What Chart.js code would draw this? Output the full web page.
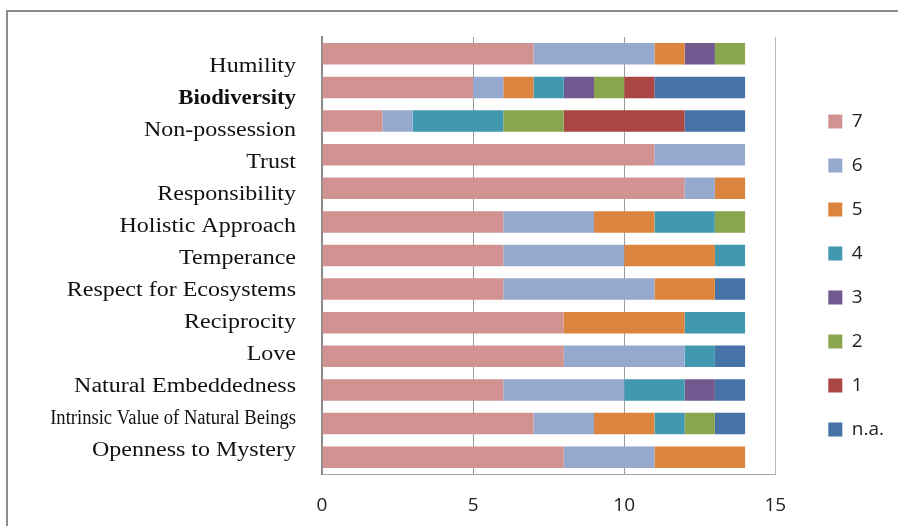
<!DOCTYPE html>
<html><head><meta charset="utf-8">
<script src="https://cdn.jsdelivr.net/npm/chart.js@4.4.1/dist/chart.umd.min.js"></script>
<style>
html,body{margin:0;padding:0;background:#fff;overflow:hidden;width:898px;height:526px}
#frame{position:absolute;left:6px;top:10px;width:1000px;height:1000px;border-top:2px solid #8c8c8c;border-left:2px solid #8c8c8c}
#c{position:absolute;left:0;top:0}
</style></head><body>
<div id="frame"></div>
<canvas id="c" width="898" height="526"></canvas>
<script>
const categories = ['Humility','Biodiversity','Non-possession','Trust','Responsibility','Holistic Approach','Temperance','Respect for Ecosystems','Reciprocity','Love','Natural Embeddedness','Intrinsic Value of Natural Beings','Openness to Mystery'];
const seriesNames = ['7','6','5','4','3','2','1','n.a.'];
const r7 = [7,5,2,11,12,6,6,6,8,8,6,7,8];
const r6 = [4,1,1,3,1,3,4,5,0,4,4,2,3];
const r5 = [1,1,0,0,1,2,3,2,4,0,0,2,3];
const r4 = [0,1,3,0,0,2,1,0,2,1,2,1,0];
const r3 = [1,1,0,0,0,0,0,0,0,0,1,0,0];
const r2 = [1,1,2,0,0,1,0,0,0,0,0,1,0];
const r1 = [0,1,4,0,0,0,0,0,0,0,0,0,0];
const rNA = [0,3,2,0,0,0,0,1,0,1,1,1,0];
const xTicks = [0,5,10,15];

const seriesValues = [r7,r6,r5,r4,r3,r2,r1,rNA];
const colors = ['#D19391','#95A9CF','#DB843D','#4198AF','#71588F','#89A54E','#AA4643','#4572A7'];

const labelPlugin = {
  id: 'serifLabels',
  afterDraw(chart, args, opts) {
    const s = chart.scales.y;
    const ctx = chart.ctx;
    const ref = s.getPixelForTick(opts.anchor);
    ctx.save();
    ctx.fillStyle = opts.color;
    ctx.textAlign = 'right';
    ctx.textBaseline = 'middle';
    s.ticks.forEach((t, i) => {
      const y = ref + (s.getPixelForTick(i) - ref) * opts.spacing + opts.dy;
      ctx.save();
      ctx.translate(s.right - opts.gap, y);
      ctx.scale(opts.stretch[i], 1);
      ctx.font = (opts.bold[i] ? 'bold ' : '') + opts.size + 'px "Liberation Serif"';
      ctx.fillText(categories[i], 0, 0);
      ctx.restore();
    });
    ctx.restore();
  }
};

new Chart(document.getElementById('c'), {
  type: 'bar',
  data: {
    labels: categories,
    datasets: seriesNames.map((n, i) => ({
      label: n,
      data: seriesValues[i],
      backgroundColor: colors[i],
      borderWidth: 0,
      barPercentage: 0.64,
      categoryPercentage: 1
    }))
  },
  options: {
    indexAxis: 'y',
    responsive: false,
    animation: false,
    layout: { padding: { left: 0, right: 4, top: 37, bottom: 12 } },
    scales: {
      x: {
        stacked: true,
        min: 0, max: 15,
        afterBuildTicks: s => { s.ticks = xTicks.map(v => ({ value: v })); },
        afterFit: s => { s.height = 40; },
        grid: {
          drawTicks: false,
          color: c => (c.tick && c.tick.value === 15) ? '#b8b8b8' : (c.tick && c.tick.value === 0 ? 'rgba(0,0,0,0)' : '#9a9a9a'),
          lineWidth: 1
        },
        border: { display: true, color: '#a8a8a8', width: 1 },
        ticks: { padding: 20, color: '#222', font: { family: '"Open Sans"', size: 19 } }
      },
      y: {
        stacked: true,
        afterFit: s => { s.width = 322; },
        grid: { display: false },
        border: { display: true, color: '#8a8a8a', width: 2 },
        ticks: { display: false }
      },
      yR: {
        type: 'linear',
        position: 'right',
        display: true,
        afterFit: s => { s.width = 28; },
        grid: { display: false },
        border: { display: false },
        ticks: { display: false }
      }
    },
    plugins: {
      tooltip: { enabled: false },
      legend: {
        position: 'right',
        labels: {
          boxWidth: 14, boxHeight: 14, padding: 25,
          color: '#222',
          font: { family: '"Open Sans"', size: 19 }
        }
      },
      serifLabels: {
        anchor: 7, spacing: 0.952, dy: 1.5, gap: 26, size: 20, color: '#111',
        stretch: [1.2,1.14,1.2,1.2,1.2,1.2,1.2,1.2,1.2,1.2,1.2,0.93,1.2],
        bold: [false,true,false,false,false,false,false,false,false,false,false,false,false]
      }
    }
  },
  plugins: [labelPlugin]
});
</script>
</body></html>
